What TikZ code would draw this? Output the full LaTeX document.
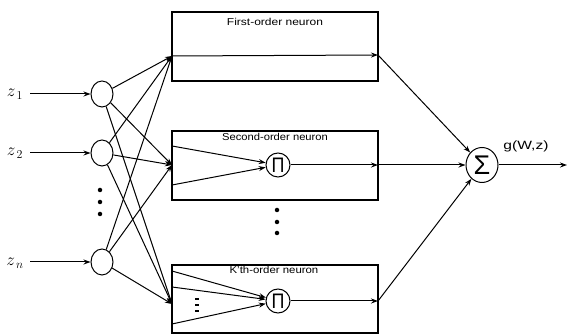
\documentclass[tikz,border=0pt]{standalone}
\usepackage{fontspec}
\setmainfont{Liberation Sans}
\usetikzlibrary{arrows.meta,shapes.geometric}
\tikzset{
  wire/.style={line width=1pt},
  arr/.style={wire,-{Stealth[length=7pt,width=5pt]}},
  inode/.style={draw,line width=1pt,ellipse,minimum width=22pt,minimum height=26pt,inner sep=0pt},
  pnode/.style={draw,line width=1pt,circle,minimum size=24pt,inner sep=0pt,font=\fontsize{21}{21}\selectfont},
  snode/.style={draw,line width=1pt,ellipse,minimum width=32pt,minimum height=35pt,inner sep=0pt,font=\fontsize{27}{27}\selectfont},
  boxst/.style={draw,line width=1.1pt},
  lbl/.style={inner sep=0pt,font=\fontsize{10}{10}\selectfont},
  zlbl/.style={inner sep=0pt,font=\fontsize{18}{18}\selectfont},
  bigdot/.style={fill,circle,inner sep=0pt,minimum size=4.5pt}
}
\begin{document}
\begin{tikzpicture}[x=1pt,y=-1pt]
\useasboundingbox (0,0) rectangle (568,336);
% boxes
\draw[boxst] (172,12) rectangle (378,81);
\draw[boxst] (172,131) rectangle (378,200);
\draw[boxst] (172,265) rectangle (378,333);
\node[lbl] (l1) at (275,22) {\scalebox{1.2}[1]{First-order neuron}};
\node[lbl] (l2) at (275,137) {\scalebox{1.12}[1]{Second-order neuron}};
\node[lbl] (l3) at (274,270) {\scalebox{1.14}[1]{K'th-order neuron}};
% input labels and nodes
\node[zlbl] (t1) at (15,94) {$z_{\,1}$};
\node[zlbl] (t2) at (15,153) {$z_{\,2}$};
\node[zlbl] (tn) at (15,263) {$z_{\,n}$};
\coordinate (s1) at (30,94);
\coordinate (s2) at (30,153);
\coordinate (sn) at (30,262);
\node[inode] (i1) at (102,94) {};
\node[inode] (i2) at (102,153) {};
\node[inode] (in) at (102,262) {};
\draw[arr] (s1) -- (i1);
\draw[arr] (s2) -- (i2);
\draw[arr] (sn) -- (in);
\node[bigdot] (d1) at (100,190) {};
\node[bigdot] (d2) at (100,202) {};
\node[bigdot] (d3) at (100,214) {};
% box entry points
\coordinate (e1) at (172,56);
\coordinate (e2) at (172,165);
\coordinate (e3) at (172,304);
\foreach \s in {i1,i2,in}{
  \draw[arr] (\s) -- (e1);
  \draw[arr] (\s) -- (e2);
  \draw[arr] (\s) -- (e3);
}
% first-order
\coordinate (o1) at (378,55);
\draw[arr] (e1) -- (o1);
% second-order
\node[pnode] (p2) at (278,165) {\scalebox{0.85}[1]{Π}};
\coordinate (a21) at (172,146);
\coordinate (a22) at (172,185);
\draw[arr] (a21) -- (p2);
\draw[arr] (a22) -- (p2);
\coordinate (o2) at (378,165);
\draw[arr] (p2) -- (o2);
% dots between boxes
\node[bigdot] (m1) at (277,210) {};
\node[bigdot] (m2) at (277,222) {};
\node[bigdot] (m3) at (277,233) {};
% k-th order
\node[pnode] (p3) at (278,301) {\scalebox{0.85}[1]{Π}};
\coordinate (a31) at (172,271);
\coordinate (a32) at (172,287);
\coordinate (a33) at (172,324);
\draw[arr] (a31) -- (p3);
\draw[arr] (a32) -- (p3);
\draw[arr] (a33) -- (p3);
\node[fill,inner sep=0pt,minimum width=3.5pt,minimum height=2pt] (k1) at (197,299) {};
\node[fill,inner sep=0pt,minimum width=3.5pt,minimum height=2pt] (k2) at (197,305) {};
\node[fill,inner sep=0pt,minimum width=3.5pt,minimum height=2pt] (k3) at (197,311) {};
\coordinate (o3) at (378,301);
\draw[arr] (p3) -- (o3);
% sum
\node[snode] (sg) at (482,165) {Σ};
\draw[arr] (o1) -- (sg);
\draw[arr] (o2) -- (sg);
\draw[arr] (o3) -- (sg);
\coordinate (out) at (567,165);
\draw[arr] (sg) -- (out);
\node[inner sep=0pt,font=\fontsize{12}{12}\selectfont] (g) at (526,146) {\scalebox{1.3}[1]{g(W,z)}};
\end{tikzpicture}
\end{document}
